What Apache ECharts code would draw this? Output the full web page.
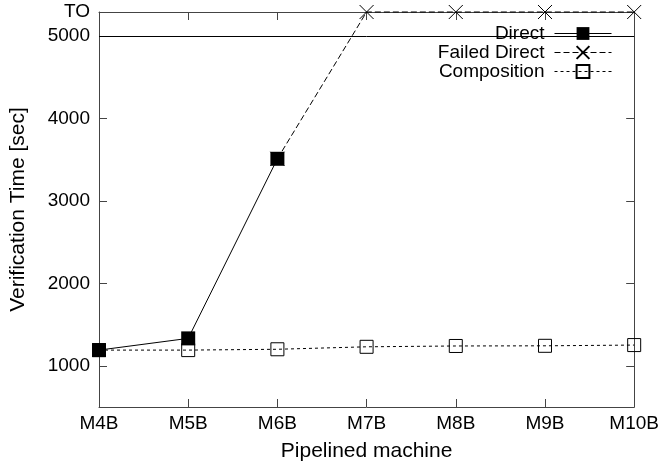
<!DOCTYPE html>
<html>
<head>
<meta charset="utf-8">
<script src="https://cdn.jsdelivr.net/npm/echarts@6/dist/echarts.min.js"></script>
<style>
  html, body { margin: 0; padding: 0; background: #fff; }
  #chart { width: 662px; height: 467px; }
</style>
</head>
<body>
<div id="chart"></div>
<script>
// timeout value drawn as "TO" at the top of the plot
var TO = 5290;

var machines = ['M4B', 'M5B', 'M6B', 'M7B', 'M8B', 'M9B', 'M10B'];
var direct = [1190, 1332, 3510, null, null, null, null];
var failedDirect = [null, null, 3510, TO, TO, TO, TO];
var composition = [1190, 1190, 1200, 1230, 1240, 1242, 1251];
var yTicks = [1000, 2000, 3000, 4000, 5000];
var yLabels = [1000, 2000, 3000, 4000, 5000, TO];

var font = 'Liberation Sans, Arial, sans-serif';
var axisColor = '#444';
var crossPath = 'path://M0,0L10,10M10,0L0,10';

var chart = echarts.init(document.getElementById('chart'));

function legendFor(name, top) {
  return {
    data: [name],
    right: 45,
    top: top,
    align: 'right',
    itemWidth: 57,
    itemHeight: 16,
    lineStyle: { width: 1 },
    textStyle: { fontFamily: font, fontSize: 19, color: '#000', padding: [0, 5, 0, 0] }
  };
}

chart.setOption({
  animation: false,
  backgroundColor: '#fff',
  grid: { left: 97, right: 27, top: 12, bottom: 60 },
  legend: [
    legendFor('Direct', 19),
    legendFor('Failed Direct', 38),
    legendFor('Composition', 57)
  ],
  xAxis: [
    {
      type: 'category',
      data: machines,
      boundaryGap: false,
      name: 'Pipelined machine',
      nameLocation: 'middle',
      nameGap: 34,
      nameTextStyle: { fontFamily: font, fontSize: 21, color: '#000' },
      axisLine: { lineStyle: { color: axisColor, width: 1 } },
      axisTick: { inside: true, length: 8, lineStyle: { color: axisColor } },
      axisLabel: { fontFamily: font, fontSize: 19, color: '#000', margin: 7 },
      splitLine: { show: false }
    },
    {
      type: 'category',
      data: machines,
      boundaryGap: false,
      position: 'top',
      axisLine: { lineStyle: { color: axisColor, width: 1 } },
      axisTick: { inside: true, length: 8, lineStyle: { color: axisColor } },
      axisLabel: { show: false },
      splitLine: { show: false }
    }
  ],
  yAxis: [
    {
      type: 'value',
      min: 500,
      max: TO,
      name: 'Verification Time [sec]',
      nameLocation: 'middle',
      nameGap: 70,
      nameTextStyle: { fontFamily: font, fontSize: 21, color: '#000' },
      axisLine: { show: true, lineStyle: { color: axisColor, width: 1 } },
      axisTick: { show: true, inside: true, length: 8, customValues: yTicks, lineStyle: { color: axisColor } },
      axisLabel: {
        fontFamily: font, fontSize: 19, color: '#000', margin: 9,
        customValues: yLabels,
        formatter: function (v) { return v === TO ? 'TO' : String(v); }
      },
      splitLine: { show: false }
    },
    {
      type: 'value',
      min: 500,
      max: TO,
      position: 'right',
      axisLine: { show: true, lineStyle: { color: axisColor, width: 1 } },
      axisTick: { show: true, inside: true, length: 8, customValues: yTicks, lineStyle: { color: axisColor } },
      axisLabel: { show: false },
      splitLine: { show: false }
    }
  ],
  series: [
    {
      name: 'Composition',
      type: 'line',
      data: composition,
      clip: false,
      symbol: 'rect',
      symbolSize: 13,
      itemStyle: { color: 'transparent', borderColor: '#000', borderWidth: 1 },
      lineStyle: { color: '#000', width: 1, type: [3, 3] },
      z: 2,
      markLine: {
        silent: true,
        symbol: ['none', 'none'],
        label: { show: false },
        lineStyle: { color: '#000', width: 1, type: 'solid' },
        data: [{ yAxis: 5000 }]
      }
    },
    {
      name: 'Failed Direct',
      type: 'line',
      data: failedDirect,
      clip: false,
      symbol: crossPath,
      symbolSize: 14,
      itemStyle: { color: 'transparent', borderColor: '#000', borderWidth: 1 },
      lineStyle: { color: '#000', width: 1, type: [6, 3] },
      z: 3
    },
    {
      name: 'Direct',
      type: 'line',
      data: direct,
      clip: false,
      symbol: 'rect',
      symbolSize: 14,
      itemStyle: { color: '#000' },
      lineStyle: { color: '#000', width: 1, type: 'solid' },
      z: 4
    }
  ]
});
</script>
</body>
</html>
